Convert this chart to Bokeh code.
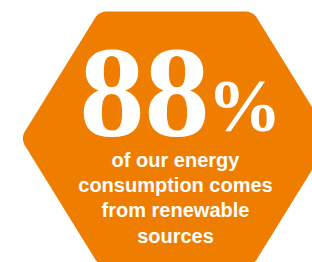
import numpy as np
from bokeh.plotting import figure
from bokeh.models import Range1d
from bokeh.core.properties import value
from bokeh.embed import file_html
from bokeh.resources import INLINE

# ---- data ----
share_value = [88]
share_unit = ["%"]
caption_lines = ["of our energy", "consumption comes", "from renewable", "sources"]

# ---- layout (data coordinates = page pixels) ----
W, H = 312, 262
p = figure(width=W, height=H, x_range=Range1d(0, W), y_range=Range1d(H, 0),
           output_backend="svg", toolbar_location=None, min_border=0,
           outline_line_color=None, background_fill_color="white",
           border_fill_color="white")
p.axis.visible = False
p.grid.visible = False

ORANGE = "#EF7D00"

# hexagon with rounded corners
cx, cy = 175.5, 138.0
half_w, half_h, half_top = 155.5, 127.0, 77.0
verts = np.array([
    [cx - half_w, cy],
    [cx - half_top, cy - half_h],
    [cx + half_top, cy - half_h],
    [cx + half_w, cy],
    [cx + half_top, cy + half_h],
    [cx - half_top, cy + half_h],
])
radius = 14.0
xs, ys = [], []
n = len(verts)
for i in range(n):
    V = verts[i]
    P = verts[i - 1]
    N = verts[(i + 1) % n]
    u1 = (P - V) / np.linalg.norm(P - V)
    u2 = (N - V) / np.linalg.norm(N - V)
    theta = np.arccos(np.clip(np.dot(u1, u2), -1, 1))
    bis = (u1 + u2) / np.linalg.norm(u1 + u2)
    C = V + bis * radius / np.sin(theta / 2)
    d = radius / np.tan(theta / 2)
    A = V + u1 * d
    B = V + u2 * d
    a0 = np.arctan2(A[1] - C[1], A[0] - C[0])
    a1 = np.arctan2(B[1] - C[1], B[0] - C[0])
    da = (a1 - a0 + np.pi) % (2 * np.pi) - np.pi
    for t in np.linspace(0, 1, 12):
        ang = a0 + da * t
        xs.append(C[0] + radius * np.cos(ang))
        ys.append(C[1] + radius * np.sin(ang))
p.patch(xs, ys, fill_color=ORANGE, line_color=None)

# big number
p.text(x=[144], y=[93], text=[str(v) for v in share_value],
       text_font=value("Liberation Serif"), text_font_style="bold",
       text_font_size="130px", text_align="center", text_baseline="alphabetic",
       text_color="white")
p.text(x=[207], y=[105], text=share_unit,
       text_font=value("Liberation Serif"), text_font_style="bold",
       text_font_size="74px", text_align="left", text_baseline="alphabetic",
       text_color="white")

# caption
base_y = [159, 184.5, 209.5, 235]
p.text(x=[175] * len(caption_lines), y=base_y, text=caption_lines,
       text_font=value("Liberation Sans"), text_font_style="bold",
       text_font_size="20px", text_align="center", text_baseline="alphabetic",
       text_color="white")

open("out.html", "w").write(file_html(p, INLINE))
